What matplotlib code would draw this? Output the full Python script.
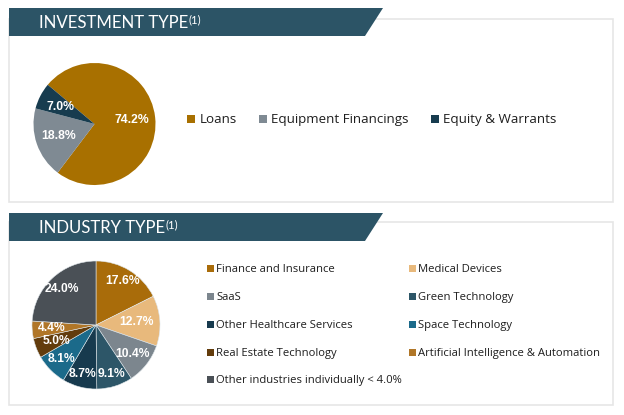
import matplotlib
matplotlib.use("Agg")
import matplotlib.pyplot as plt
from matplotlib.patches import Rectangle, Polygon
import numpy as np

# ---------------- data ----------------
inv_labels = ["Loans", "Equipment Financings", "Equity & Warrants"]
inv_values = [74.2, 18.8, 7.0]
inv_colors = ["#A87000", "#7F8A93", "#173C4F"]

ind_labels = ["Finance and Insurance", "Medical Devices", "SaaS", "Green Technology",
              "Other Healthcare Services", "Space Technology", "Real Estate Technology",
              "Artificial Intelligence & Automation", "Other industries individually < 4.0%"]
ind_values = [17.6, 12.7, 10.4, 9.1, 8.7, 8.1, 5.0, 4.4, 24.0]
ind_colors = ["#A96C0A", "#E8B97C", "#7C868E", "#2D5668", "#173A4E",
              "#1B6A8A", "#633C0C", "#B07628", "#4A5056"]

titles = ["INVESTMENT TYPE", "INDUSTRY TYPE"]
title_sup = "(1)"

# ---------------- layout (pixels) ----------------
W, H = 624, 415
BANNER = "#2C5466"
fig = plt.figure(figsize=(W / 100, H / 100), dpi=100)
bg = fig.add_axes([0, 0, 1, 1])
bg.set_xlim(0, W)
bg.set_ylim(H, 0)
bg.axis("off")

TITLE_FONT = "Lato"
LEG_FONT = "Open Sans"
LBL_FONT = "Liberation Sans"

def panel(box_top, box_bot, ban_top, ban_bot, title, base_y):
    bg.add_patch(Rectangle((9, box_top), 604, box_bot - box_top, fill=False,
                           edgecolor="#E6E6E6", lw=1.2))
    bg.add_patch(Polygon([(9, ban_top), (383, ban_top), (365, ban_bot), (9, ban_bot)],
                         closed=True, facecolor=BANNER, edgecolor="none"))
    t = bg.text(39, base_y, title, color="white", fontsize=12.1, family=TITLE_FONT,
                fontweight="normal", va="baseline", ha="left")
    return t

t1 = panel(19, 202, 8, 36, titles[0], 28.3)
t2 = panel(222, 405, 213, 241, titles[1], 233.3)

fig.canvas.draw()
r = fig.canvas.get_renderer()
inv = bg.transData.inverted()
for t, by in [(t1, 28.3), (t2, 233.3)]:
    bb = t.get_window_extent(r)
    x1 = inv.transform((bb.x1, bb.y0))[0]
    bg.text(x1 + 0.5, by - 5.0, title_sup, color="white", fontsize=8.2,
            family=TITLE_FONT, va="baseline", ha="left")

def pie_axes(cx, cy, rad):
    return fig.add_axes([(cx - rad) / W, (H - cy - rad) / H, 2 * rad / W, 2 * rad / H])

# ---- investment pie ----
ax1 = pie_axes(94.5, 124, 61)
w1, _ = ax1.pie(inv_values, colors=inv_colors, startangle=140, counterclock=False,
                radius=1, wedgeprops=dict(linewidth=0))
ax1.set_xlim(-1, 1); ax1.set_ylim(-1, 1); ax1.set_aspect("equal")
for w, v in zip(w1, inv_values):
    th = np.deg2rad((w.theta1 + w.theta2) / 2)
    ax1.text(0.62 * np.cos(th), 0.62 * np.sin(th), f"{v:.1f}%", ha="center", va="center",
             color="white", fontsize=8.8, fontweight="bold", family=LBL_FONT)

# ---- industry pie ----
ind_label_r = [0.80, 0.64, 0.73, 0.80, 0.80, 0.76, 0.67, 0.69, 0.77]
ax2 = pie_axes(96, 325, 64)
w2, _ = ax2.pie(ind_values, colors=ind_colors, startangle=90, counterclock=False,
                radius=1, wedgeprops=dict(linewidth=0.4, edgecolor="#dfe6ea"))
ax2.set_xlim(-1, 1); ax2.set_ylim(-1, 1); ax2.set_aspect("equal")
for w, v, lr in zip(w2, ind_values, ind_label_r):
    th = np.deg2rad((w.theta1 + w.theta2) / 2)
    ax2.text(lr * np.cos(th), lr * np.sin(th), f"{v:.1f}%", ha="center", va="center",
             color="white", fontsize=8.7, fontweight="bold", family=LBL_FONT)

# ---- investment legend (single row) ----
x = 187
base = 122.7
for lab, col in zip(inv_labels, inv_colors):
    bg.add_patch(Rectangle((x, base - 8), 8, 8, facecolor=col, edgecolor="none"))
    t = bg.text(x + 12.5, base, lab, fontsize=9.6, family=LEG_FONT, color="#1E1E1E",
                va="baseline", ha="left")
    bb = t.get_window_extent(r)
    x = inv.transform((bb.x1, bb.y0))[0] + 22

# ---- industry legend (two columns, row-major) ----
col_x = [207, 409]
row0, dy = 272.3, 27.75
for i, (lab, col) in enumerate(zip(ind_labels, ind_colors)):
    cx = col_x[i % 2]
    by = row0 + dy * (i // 2)
    bg.add_patch(Rectangle((cx, by - 7), 7, 7, facecolor=col, edgecolor="none"))
    bg.text(cx + 9.5, by, lab, fontsize=8.1, family=LEG_FONT, color="#1E1E1E",
            va="baseline", ha="left")

fig.savefig("out.png", dpi=100, facecolor="white")
